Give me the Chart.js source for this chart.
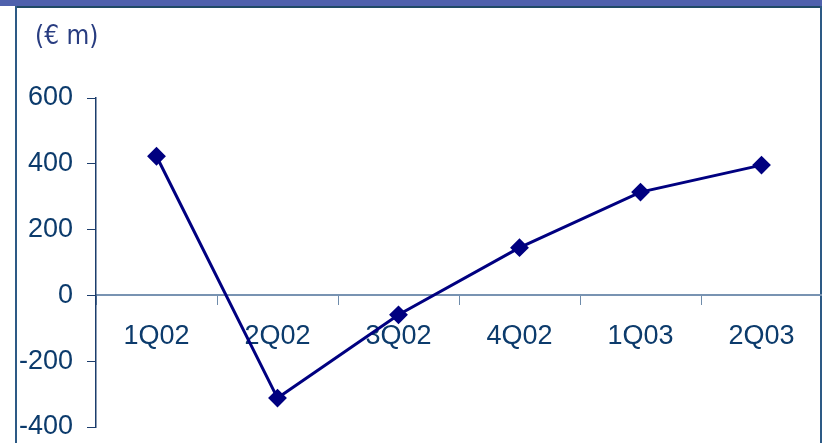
<!DOCTYPE html>
<html>
<head>
<meta charset="utf-8">
<script src="https://cdn.jsdelivr.net/npm/chart.js@4"></script>
<style>
  html, body { margin: 0; padding: 0; background: #ffffff; }
  #wrap { width: 822px; height: 443px; position: relative; }
</style>
</head>
<body>
<div id="wrap"><canvas id="c" width="822" height="443"></canvas></div>
<script>
// Quarterly result, € millions
const quarters = ['1Q02', '2Q02', '3Q02', '4Q02', '1Q03', '2Q03'];
const values = [423, -312, -59, 145, 314, 396];
const yTicks = [-400, -200, 0, 200, 400, 600];
const unitLabel = '(€ m)';

const navy = '#000080';
const labelColor = '#0c3b6c';

// Slide frame: blue strip on top, thin borders left and right, unit caption
const framePlugin = {
  id: 'frame',
  beforeDraw(chart) {
    const ctx = chart.ctx;
    const w = chart.width, h = chart.height;
    ctx.save();
    ctx.fillStyle = '#ffffff';
    ctx.fillRect(0, 0, w, h);
    ctx.fillStyle = '#4f61ad';
    ctx.fillRect(0, 0, w, 6);
    ctx.fillStyle = '#1f4a66';
    ctx.fillRect(15, 6, w - 15, 2);
    ctx.fillStyle = '#2d5a85';
    ctx.fillRect(15, 6, 2, h - 6);
    ctx.fillRect(820, 6, 2, h - 6);
    ctx.fillStyle = '#283c80';
    ctx.font = '26px "DejaVu Sans Condensed", "DejaVu Sans", sans-serif';
    ctx.textBaseline = 'middle';
    ctx.textAlign = 'left';
    ctx.fillText(unitLabel, 35, 37);
    ctx.restore();
  }
};

new Chart(document.getElementById('c'), {
  type: 'line',
  data: {
    labels: quarters,
    datasets: [{
      data: values,
      borderColor: navy,
      backgroundColor: navy,
      borderWidth: 3,
      pointStyle: 'rectRot',
      pointRadius: 8,
      pointBorderWidth: 2,
      pointBackgroundColor: navy,
      pointBorderColor: navy,
      tension: 0,
      fill: false
    }]
  },
  options: {
    responsive: false,
    animation: false,
    events: [],
    layout: {
      autoPadding: false,
      padding: { left: 16, right: 0, top: 98, bottom: 16 }
    },
    plugins: {
      legend: { display: false },
      title: { display: false },
      tooltip: { enabled: false }
    },
    scales: {
      x: {
        type: 'category',
        position: { y: 0 },
        offset: true,
        afterFit(scale) {
          scale.paddingLeft = 0;
          scale.paddingRight = 0;
        },
        grid: {
          offset: true,
          drawOnChartArea: false,
          drawTicks: true,
          tickLength: 9,
          color: '#6f8cab',
          lineWidth: 1
        },
        border: { display: true, color: '#7893b2', width: 2 },
        ticks: {
          color: labelColor,
          padding: 16,
          font: { family: '"Liberation Sans", Arial, sans-serif', size: 27 },
          maxRotation: 0,
          autoSkip: false
        }
      },
      y: {
        min: -400,
        max: 600,
        afterBuildTicks(scale) {
          scale.ticks = yTicks.map(v => ({ value: v }));
        },
        afterFit(scale) {
          scale.width = 80;
          scale.paddingTop = 0;
          scale.paddingBottom = 0;
        },
        grid: {
          drawOnChartArea: false,
          drawTicks: true,
          tickLength: 9,
          color: '#1c3d6c',
          lineWidth: 1
        },
        border: { display: true, color: '#1c3d6c', width: 1.5 },
        ticks: {
          color: labelColor,
          padding: 14,
          font: { family: '"Liberation Sans", Arial, sans-serif', size: 27 }
        }
      }
    }
  },
  plugins: [framePlugin]
});
</script>
</body>
</html>
